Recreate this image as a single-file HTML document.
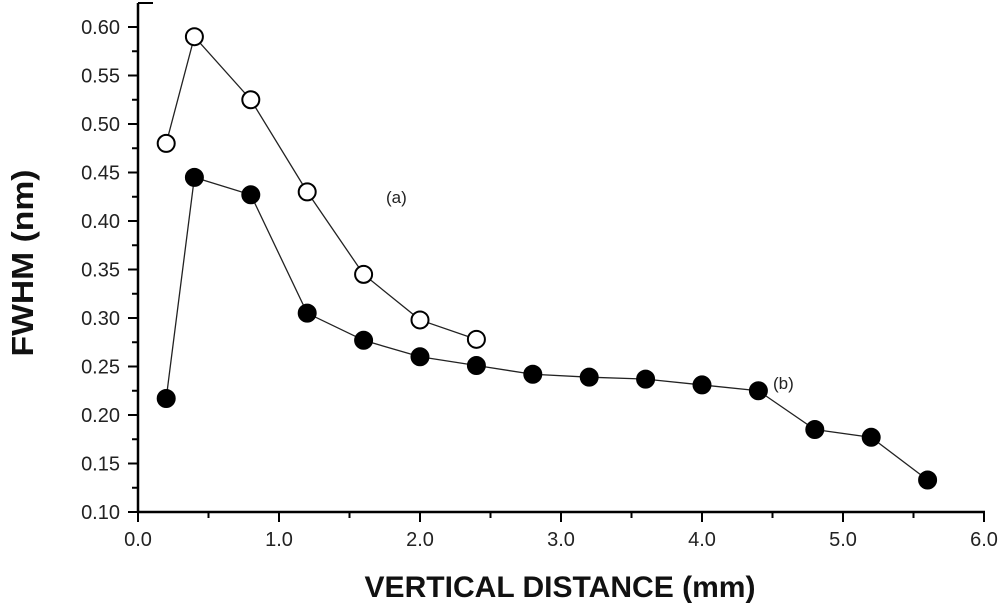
<!DOCTYPE html>
<html><head><meta charset="utf-8"><style>
body{margin:0;background:#fff}
svg{display:block;font-family:"Liberation Sans",Arial,sans-serif}
</style></head><body>
<svg id="chart" width="1000" height="608" viewBox="0 0 1000 608"></svg>
<script>
const xTicks=[0,1,2,3,4,5,6];
const xTickLabels=["0.0","1.0","2.0","3.0","4.0","5.0","6.0"];
const yTicks=[0.10,0.15,0.20,0.25,0.30,0.35,0.40,0.45,0.50,0.55,0.60];
const yTickLabels=["0.10","0.15","0.20","0.25","0.30","0.35","0.40","0.45","0.50","0.55","0.60"];
const seriesAX=[0.2,0.4,0.8,1.2,1.6,2.0,2.4];
const seriesAY=[0.48,0.59,0.525,0.43,0.345,0.298,0.278];
const seriesBX=[0.2,0.4,0.8,1.2,1.6,2.0,2.4,2.8,3.2,3.6,4.0,4.4,4.8,5.2,5.6];
const seriesBY=[0.217,0.445,0.427,0.305,0.277,0.26,0.251,0.242,0.239,0.237,0.231,0.225,0.185,0.177,0.133];

const svg=document.getElementById('chart');
const NS='http://www.w3.org/2000/svg';
const X0=138,XU=141,Y0=512,YPER=970;
const sx=v=>X0+v*XU;
const sy=v=>Y0-(v-0.10)*YPER;
function mk(tag,attrs,parent){const e=document.createElementNS(NS,tag);for(const k in attrs)e.setAttribute(k,attrs[k]);(parent||svg).appendChild(e);return e;}

let ax=mk('line',{x1:X0,y1:3,x2:X0,y2:Y0+1,stroke:'#000','stroke-width':2.5});


let axx=mk('line',{x1:X0-1,y1:Y0,x2:sx(6)+1,y2:Y0,stroke:'#000','stroke-width':2.5});


mk('line',{x1:X0,y1:3,x2:X0+15,y2:3,stroke:'#000','stroke-width':2});

for(let i=0;i<=12;i++){const v=i*0.5;mk('line',{x1:sx(v),y1:Y0,x2:sx(v),y2:Y0+(i%2?6:10),stroke:'#000','stroke-width':2});}
xTicks.forEach((v,i)=>{const t=mk('text',{x:sx(v),y:546,'text-anchor':'middle','font-size':20,fill:'#222'});t.textContent=xTickLabels[i];

});
for(let i=0;i<=20;i++){const v=0.10+i*0.025;mk('line',{x1:X0,y1:sy(v),x2:X0-(i%2?6:10),y2:sy(v),stroke:'#000','stroke-width':2});}
yTicks.forEach((v,i)=>{const t=mk('text',{x:120,y:sy(v)+7,'text-anchor':'end','font-size':20,fill:'#222'});t.textContent=yTickLabels[i];

});

function series(xs,ys,fill,name){
  const g=mk('g',{});
  
  
  const pts=xs.map((x,i)=>sx(x)+','+sy(ys[i])).join(' ');
  mk('polyline',{points:pts,fill:'none',stroke:'#222','stroke-width':1.3},g);
  xs.forEach((x,i)=>{const c=mk('circle',{cx:sx(x),cy:sy(ys[i]),r:8.5,fill:fill,stroke:'#000','stroke-width':2},g);
  
  });
}
series(seriesBX,seriesBY,'#000','series-b');
series(seriesAX,seriesAY,'#fff','series-a');

let la=mk('text',{x:386,y:203,'font-size':17,fill:'#222'});la.textContent='(a)';


let lb=mk('text',{x:773,y:389,'font-size':17,fill:'#222'});lb.textContent='(b)';


let xt=mk('text',{x:560,y:597,'text-anchor':'middle','font-size':30,'font-weight':'bold',fill:'#111',textLength:391,lengthAdjust:'spacingAndGlyphs'});xt.textContent='VERTICAL DISTANCE (mm)';


let yt=mk('text',{x:0,y:0,'text-anchor':'middle','font-size':31,'font-weight':'bold',fill:'#111',textLength:187,lengthAdjust:'spacingAndGlyphs',transform:'translate(33,263) rotate(-90)'});yt.textContent='FWHM (nm)';


</script>
</body></html>
